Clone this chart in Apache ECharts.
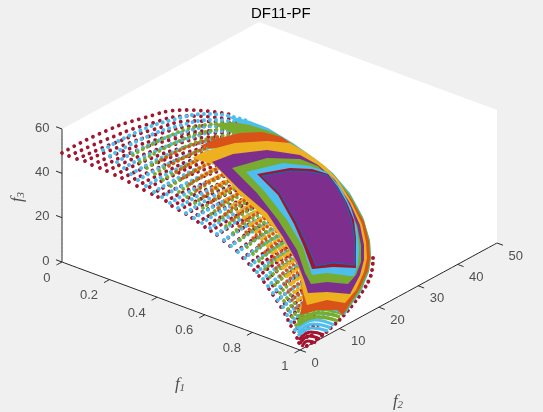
<!DOCTYPE html>
<html>
<head>
<meta charset="utf-8">
<style>
html, body { margin: 0; padding: 0; background: #f0f0f0; }
#chart { width: 543px; height: 412px; }
</style>
<script src="https://cdn.jsdelivr.net/npm/echarts@6/dist/echarts.min.js"></script>
</head>
<body>
<div id="chart"></div>
<script>
var f1Ticks = [0, 0.2, 0.4, 0.6, 0.8, 1];
var f2Ticks = [0, 10, 20, 30, 40, 50];
var f3Ticks = [0, 20, 40, 60];

var redRows = [
  [62,153,99,134,140,119,187,110,233,115],
  [69,156,105,140,146,125,190,116,236,120],
  [77,159,112,144,152,130,195,121,240,124],
  [85,161,119,147,158,134,200,126,244,128],
  [92,165,126,150,164,138,205,131,248,130],
  [100,168,133,152,170,140,210,133,252,133],
  [107,171,140,156,176,144,215,137,256,137],
  [115,175,147,160,182,148,220,141,260,141],
  [122,178,154,164,188,152,228,145,262,145],
  [129,182,158,168,190,156,232,148],
  [137,186,165,172,195,159,235,150],
  [144,190,172,176,202,163,240,155],
  [152,194,179,180,209,168,245,159],
  [158,197,186,184,216,172,250,163],
  [166,201,195,187,225,176,262,168],
  [172,206,201,192,231,180,268,172],
  [179,210,207,196,237,184,274,176],
  [186,214,214,200,244,188,280,180],
  [192,218,220,203,250,191,285,183],
  [198,222,226,207,256,195,290,187],
  [205,227,232,211,260,199,295,192],
  [211,231,238,215,265,204,300,196],
  [217,235,243,220,270,208,304,200],
  [224,241,248,225,275,213,308,205],
  [230,246,253,230,280,218,312,210],
  [237,251,259,236,285,224,316,216],
  [243,258,265,243,290,231,320,223],
  [249,264,270,249,295,237,323,229],
  [254,270,274,255,298,243,325,235],
  [259,276,279,261,301,250,327,242],
  [264,282,283,267,304,256,329,249],
  [269,289,288,274,308,263,330,256],
  [273,295,291,280,310,270],
  [277,301,294,287,312,277],
  [281,307,296,294,313,285],
  [285,314,298,301,315,292],
  [288,320,300,308,315,300],
  [291,326,302,315,316,308],
  [294,332,304,322,318,315],
  [297,338,305,330,318,325],
  [299,343,305,338,313,335]
];
var cyanRows = [
  [103,150,135,133,172,120,210,114,250,122],
  [110,156,142,139,178,126,215,120,254,127],
  [117,162,149,145,184,132,220,126,258,132],
  [124,168,156,151,190,138,225,131,262,136],
  [131,174,163,157,196,144,230,137],
  [138,180,170,163,202,150,235,143],
  [146,186,177,169,208,156,240,149],
  [154,192,184,175,214,162,245,155],
  [162,197,191,181,220,168,250,160],
  [170,203,198,187,226,174,255,166],
  [178,208,205,192,232,180,260,172],
  [186,213,212,197,238,185,265,177],
  [194,218,220,203,245,191,272,183],
  [202,223,227,208,252,197,280,189],
  [210,228,234,214,259,203,287,195],
  [217,234,241,219,266,208,294,200],
  [224,240,248,225,272,214,300,207],
  [231,246,254,231,278,220,305,213],
  [238,252,260,237,284,226,310,219],
  [245,258,266,243,290,232,315,225],
  [251,265,272,250,295,238,320,232],
  [257,272,277,257,300,245,325,238],
  [263,279,282,264,305,252,330,246],
  [268,286,287,271,310,260,335,254],
  [273,293,291,279,314,268],
  [278,300,295,287,318,276],
  [283,307,299,295,322,285],
  [287,315,303,303,326,295],
  [291,322,306,311,330,304],
  [295,330,309,320,333,314]
];
var greenRows = [
  [133,155,165,138,195,127,225,123],
  [140,162,171,145,201,133,230,128],
  [147,168,177,151,207,139,236,134],
  [155,174,183,158,213,146,242,140],
  [163,180,190,164,219,152,248,146],
  [171,186,197,170,225,158,254,152],
  [179,192,204,176,231,164,260,158],
  [187,197,211,182,238,170,266,164],
  [195,203,218,188,245,176,272,170],
  [203,208,225,194,252,182,280,176],
  [211,214,232,200,259,188,288,182],
  [219,220,239,206,266,194,295,188],
  [226,226,246,212,272,200,300,194],
  [233,233,253,218,278,207,305,200],
  [240,240,260,225,284,214,310,207],
  [247,247,266,232,290,221,315,214],
  [253,254,272,239,296,228,320,221],
  [259,261,278,246,302,235,325,228],
  [265,269,284,254,307,243,330,236],
  [270,277,289,262,312,251,335,244],
  [275,285,293,270,316,260],
  [280,293,297,279,320,269],
  [284,301,300,288,323,278],
  [288,309,303,297,326,288],
  [292,317,306,306,329,298],
  [296,325,309,315,332,308]
];
var orangeRows = [
  [162,160,190,146,220,137],
  [169,166,196,152,226,142],
  [176,172,202,158,232,148],
  [183,178,208,164,238,154],
  [190,184,214,170,244,160],
  [197,190,220,176,250,166],
  [204,196,226,182,256,172],
  [211,202,232,188,262,178],
  [218,208,238,194,268,184],
  [225,214,245,200,274,190],
  [232,220,252,206,280,196],
  [239,226,259,212,286,202],
  [246,232,266,218,292,208],
  [253,238,272,224,298,214],
  [259,245,278,231,304,221],
  [265,252,284,238,310,228],
  [271,260,290,246,316,236],
  [276,268,294,254,320,244],
  [280,276,298,262,324,252],
  [284,284,302,270,328,260],
  [288,292,306,279,332,269],
  [292,300,309,288,336,278],
  [296,308,313,297,340,288],
  [300,316,316,306,344,298]
];
var yellowRows = [
  [190,164,214,152,240,146],
  [196,170,220,158,246,151],
  [202,176,226,164,252,157],
  [208,182,232,170,258,163],
  [214,188,238,176,264,169],
  [220,194,244,182,270,175],
  [226,200,250,188,276,181],
  [232,206,256,194,282,187],
  [238,212,262,200,288,193],
  [244,218,268,206,294,199],
  [250,225,274,213,300,206],
  [256,232,280,220,306,213],
  [262,239,286,227,312,220],
  [268,246,291,234,318,228],
  [273,253,296,241,322,235],
  [278,260,300,248,326,242],
  [283,268,304,256,330,250],
  [287,276,308,264,334,258],
  [291,284,311,272,338,266],
  [295,292,314,281,342,275],
  [298,300,316,290,344,284],
  [301,308,318,298,346,292]
];
var rimDots = [373,258,372,270,369,280,362,292,354,303,344,315,334,325,320,337,305,347];

// solid bands, outermost first
var cyanBand = [225,115,250,121,268,128,293,143,317,160,333,173,350,193,363,217,370,240,371,258,369,272,361,292,352,304,345,315,320,305,305,260,285,225,250,140,240,124];
var greenBand = [212,124,232,122,250,125,275,133,296,146,318,162,334,175,351,196,364,220,370,242,371,258,369,270,361,290,352,303,345,313,320,305,305,260,285,225,250,150,232,133];
var orangeBand = [200,146,215,139,240,133,262,132,282,137,300,150,320,165,335,177,352,200,364,222,369,242,370,258,368,270,360,288,351,302,343,315,337,310,317,310,300,315,303,300,300,270,285,240,245,190,222,150];
var yellowBand = [192,158,205,151,235,143,267,141,290,143,307,153,325,166,338,180,352,203,362,224,366,242,367,258,364,272,356,290,345,303,327,300,307,305,303,292,298,265,283,240,265,218,240,195,215,165];
var purpleBand = [212,162,233,154,267,150,300,155,318,165,335,180,350,203,360,225,364,245,364,260,360,275,350,294,327,292,308,293,304,280,297,262,283,237,267,213,240,190];
var greenInner = [232,168,267,158,300,159,318,166,332,180,347,203,357,225,361,245,361,262,356,275,348,284,327,282,311,284,305,273,297,250,278,220,257,193];
var cyanInner = [246,172,283,163,310,166,327,172,341,188,351,208,357,228,359,248,358,265,354,276,350,276,327,273,312,275,308,263,303,247,287,220,265,192];
var redInner = [257,174,290,168,312,169,328,174,338,187,347,203,354,220,356,238,356,268,333,267,312,269,304,247,294,224,278,195];
var purpleCenter = [262,176,290,171,312,172,327,175,337,187,345,202,351,218,354,235,355,250,355,265,333,263,316,266,308,247,297,223,280,193];

// little arcs at the tip
var tipGreen = [[298,317,318,309,343,314],[298,321,319,313,340,317],[298,325,317,317,338,321]];
var tipCyan = [[297,329,315,320,334,325],[298,333,313,324,331,328],[298,336,312,328,328,331]];
var tipRed = [[299,340,311,332,324,335],[300,344,309,336,320,339],[302,347,308,341,316,343]];

var COLORS = { blue: '#0072BD', orange: '#D95319', yellow: '#EDB120', purple: '#7E2F8E', green: '#77AC30', cyan: '#4DBEEE', red: '#A2142F' };
var INK = '#262626';

// orthographic view of the axes box
function project(f1, f2, f3) {
  return [62 + f1 * 238 + f2 * 3.94, 262 + f1 * 88 - f2 * 2.14 - f3 * 2.217];
}

function pairs(flat) {
  var out = [];
  for (var i = 0; i < flat.length; i += 2) out.push([flat[i], flat[i + 1]]);
  return out;
}

var series = [];
var order = 1;

function addPolygon(points, color, border) {
  var pts = pairs(points);
  series.push({
    type: 'custom', silent: true, animation: false, data: [0], clip: false, z: order++,
    renderItem: function (params, api) {
      return {
        type: 'polygon',
        shape: { points: pts.map(function (p) { return api.coord(p); }) },
        style: { fill: color, stroke: border || color, lineWidth: border ? 1 : 0 }
      };
    }
  });
}

function addLine(points, color, width, dash) {
  series.push({
    type: 'line', silent: true, animation: false, showSymbol: false, symbol: 'none', smooth: true, z: order++,
    data: pairs(points),
    lineStyle: { color: color, width: width, type: dash || 'solid', cap: dash ? 'round' : 'butt', opacity: 1 }
  });
}

function addDots(rows, color, gapTop, gapBottom, width) {
  rows.forEach(function (row, i) {
    var gap = gapTop + (gapBottom - gapTop) * i / (rows.length - 1);
    addLine(row, color, width, [0.01, gap]);
  });
}

function addLabels(items, position, fontSize) {
  series.push({
    type: 'scatter', silent: true, animation: false, symbolSize: 1, z: order++,
    itemStyle: { color: 'transparent' },
    data: items,
    label: {
      show: true, position: position, distance: 0, formatter: '{b}',
      color: INK, fontFamily: 'Liberation Sans', fontSize: fontSize
    }
  });
}

function addAxisName(at, digit, rotate) {
  var text = '{f|f}{n|' + digit + '}';
  series.push({
    type: 'scatter', silent: true, animation: false, symbolSize: 1, z: order++,
    itemStyle: { color: 'transparent' },
    data: [at],
    label: {
      show: true, position: 'inside', rotate: rotate, formatter: text,
      rich: {
        f: { fontFamily: 'Liberation Serif', fontStyle: 'italic', fontSize: 17, color: INK },
        n: { fontFamily: 'Liberation Serif', fontStyle: 'italic', fontSize: 11, color: INK, padding: [7, 0, 0, 0] }
      }
    }
  });
}

// axes box
var wall = [project(0,0,60), project(0,50,60), project(1,50,60), project(1,50,0), project(1,0,0), project(0,0,0)];
addPolygon([].concat.apply([], wall), '#ffffff');
addLine([].concat(project(0,0,0), project(0,0,60)), INK, 1);
addLine([].concat(project(0,0,0), project(1,0,0)), INK, 1);
addLine([].concat(project(1,0,0), project(1,50,0)), INK, 1);
f1Ticks.forEach(function (t) { addLine([].concat(project(t,0,0), project(t,-1.4,0)), INK, 1); });
f2Ticks.forEach(function (t) { addLine([].concat(project(1,t,0), project(1.025,t,0)), INK, 1); });
f3Ticks.forEach(function (t) { addLine([].concat(project(0,0,t), project(-0.025,0,t)), INK, 1); });

addLabels(f1Ticks.map(function (t) {
  var p = project(t, 0, 0);
  return { name: String(t), value: [p[0] - 11, p[1] + 16] };
}), 'left', 13);
addLabels(f2Ticks.map(function (t) {
  var p = project(1, t, 0);
  return { name: String(t), value: [p[0] + 11, p[1] + 13] };
}), 'right', 13);
addLabels(f3Ticks.map(function (t) {
  var p = project(0, 0, t);
  return { name: String(t), value: [p[0] - 12, p[1] - 1] };
}), 'left', 13);
addAxisName([180, 385], 1, 0);
addAxisName([398, 402], 2, 0);
addAxisName([18, 197], 3, 90);

// surface, painted back to front
addLine(rimDots, COLORS.red, 4, [0.01, 6]);
addDots(redRows, COLORS.red, 7, 5, 3.8);
addDots(cyanRows, COLORS.cyan, 6, 4.6, 4);
addDots(greenRows, COLORS.green, 5.6, 4.4, 3.8);
addDots(yellowRows, COLORS.yellow, 4.4, 3.8, 4);
addDots(orangeRows, COLORS.orange, 5, 4.2, 3.4);
tipRed.forEach(function (a) { addLine(a, COLORS.red, 3); });
tipCyan.forEach(function (a) { addLine(a, COLORS.cyan, 3.2); });
tipGreen.forEach(function (a) { addLine(a, COLORS.green, 3.4); });
addPolygon(cyanBand, COLORS.cyan);
addPolygon(greenBand, COLORS.green);
addPolygon(orangeBand, COLORS.orange);
addPolygon(yellowBand, COLORS.yellow);
addPolygon(purpleBand, COLORS.purple);
addPolygon(greenInner, COLORS.green);
addPolygon(cyanInner, COLORS.cyan);
addPolygon(redInner, COLORS.red);
addPolygon(purpleCenter, COLORS.purple, COLORS.blue);

var chart = echarts.init(document.getElementById('chart'));
chart.setOption({
  backgroundColor: '#f0f0f0',
  animation: false,
  title: {
    text: 'DF11-PF', left: 246, top: 1,
    textStyle: { fontFamily: 'Liberation Sans', fontSize: 15, fontWeight: 'normal', color: '#000' }
  },
  grid: { left: 0, right: 0, top: 0, bottom: 0 },
  xAxis: { type: 'value', min: 0, max: 543, show: false },
  yAxis: { type: 'value', min: 0, max: 412, inverse: true, show: false },
  series: series
});
</script>
</body>
</html>
